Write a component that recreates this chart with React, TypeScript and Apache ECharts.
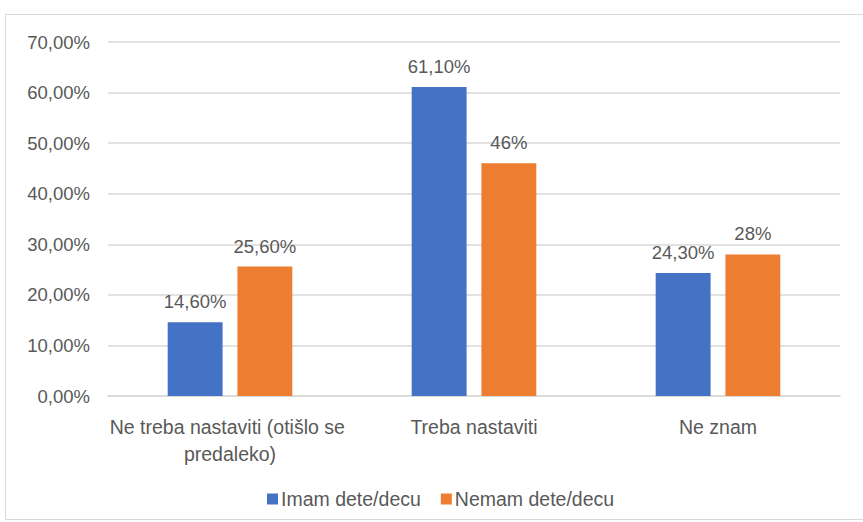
import React, { useEffect, useRef } from "react";
import * as echarts from "echarts";

const categories = ["Ne treba nastaviti (otišlo se predaleko)", "Treba nastaviti", "Ne znam"];
const seriesNames = ["Imam dete/decu", "Nemam dete/decu"];
const imamValues = [14.6, 61.1, 24.3];
const nemamValues = [25.6, 46, 28];
const imamLabels = ["14,60%", "61,10%", "24,30%"];
const nemamLabels = ["25,60%", "46%", "28%"];
const colors = ["#4472C4", "#ED7D31"];

const FONT = "Liberation Sans";
const TXT = "#595959";

export default function App() {
  const ref = useRef<HTMLDivElement>(null);
  useEffect(() => {
    document.body.style.margin = "0";
    const chart = echarts.init(ref.current!, null, { renderer: "svg" });
    const mkLabel = (labels: string[]) => ({
      show: true,
      position: "top",
      distance: 11,
      color: TXT,
      fontFamily: FONT,
      fontSize: 18.5,
      formatter: (p: any) => labels[p.dataIndex],
    });
    chart.setOption({
      animation: false,
      backgroundColor: "#fff",
      textStyle: { fontFamily: FONT },
      graphic: [
        {
          type: "rect",
          shape: { x: 5.5, y: 14.5, width: 870, height: 505 },
          style: { fill: "none", stroke: "#d9d9d9", lineWidth: 1 },
          silent: true,
          z: -1,
        },
      ],
      grid: { left: 108, right: 23, top: 42, bottom: 126, containLabel: false },
      legend: {
        data: seriesNames,
        top: 484,
        left: 262,
        itemWidth: 11,
        itemHeight: 11,
        itemGap: 20,
        itemStyle: { borderWidth: 0 },
        icon: "rect",
        textStyle: { color: TXT, fontSize: 19.5, fontFamily: FONT, padding: [0, 0, 0, -2] },
      },
      xAxis: {
        type: "category",
        data: categories,
        axisLine: { lineStyle: { color: "#d9d9d9", width: 1.5 } },
        axisTick: { show: false },
        axisLabel: {
          color: TXT,
          fontSize: 19.5,
          fontFamily: FONT,
          margin: 17,
          lineHeight: 27,
          width: 260,
          overflow: "break",
          interval: 0,
        },
      },
      yAxis: {
        type: "value",
        min: 0,
        max: 70,
        interval: 10,
        axisLine: { show: false },
        axisTick: { show: false },
        splitLine: { lineStyle: { color: "#d9d9d9", width: 1.5 } },
        axisLabel: {
          color: TXT,
          fontSize: 18.5,
          fontFamily: FONT,
          margin: 18,
          formatter: (v: number) => v.toFixed(2).replace(".", ",") + "%",
        },
      },
      series: [
        {
          name: seriesNames[0],
          type: "bar",
          data: imamValues,
          itemStyle: { color: colors[0] },
          barWidth: "22.5%",
          barGap: "27%",
          label: mkLabel(imamLabels),
        },
        {
          name: seriesNames[1],
          type: "bar",
          data: nemamValues,
          itemStyle: { color: colors[1] },
          barWidth: "22.5%",
          barGap: "27%",
          label: mkLabel(nemamLabels),
        },
      ],
    });
    return () => chart.dispose();
  }, []);
  return <div ref={ref} style={{ width: 863, height: 522 }} />;
}
